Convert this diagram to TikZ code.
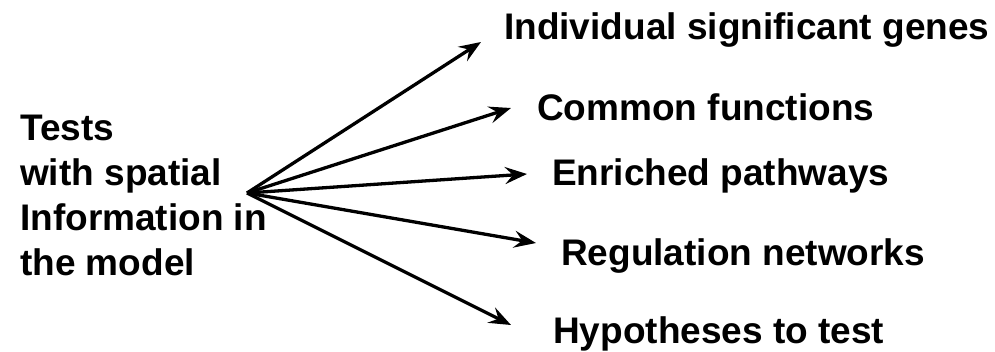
\documentclass[tikz,border=0pt]{standalone}
\usepackage{fontspec}
\setmainfont{Liberation Sans}
\usetikzlibrary{arrows.meta}

\begin{document}
\begin{tikzpicture}[
    x=1pt, y=-1pt,
    every node/.style={inner sep=0pt, align=left, anchor=base west, font=\fontsize{37}{45}\selectfont\bfseries},
    link/.style={line width=3.3pt, -{Stealth[length=22pt, width=17pt, inset=8pt]}}
]
\useasboundingbox (0,0) rectangle (995,351);

% Nodes
\node (tests) at (20,275) {Tests\\with spatial\\Information in\\the model};
\node (genes) at (504,39) {Individual significant genes};
\node (functions) at (537,120) {Common functions};
\node (pathways) at (552,185) {Enriched pathways};
\node (networks) at (561,265) {Regulation networks};
\node (hypotheses) at (553,343) {Hypotheses to test};

% Arrow ends
\coordinate (hub) at (247,193);
\coordinate (toGenes) at (481,42);
\coordinate (toFunctions) at (511,108);
\coordinate (toPathways) at (527,174);
\coordinate (toNetworks) at (536,243);
\coordinate (toHypotheses) at (511,325);

% Arrows
\draw[link] (hub) -- (toGenes);
\draw[link] (hub) -- (toFunctions);
\draw[link] (hub) -- (toPathways);
\draw[link] (hub) -- (toNetworks);
\draw[link] (hub) -- (toHypotheses);

\end{tikzpicture}
\end{document}
